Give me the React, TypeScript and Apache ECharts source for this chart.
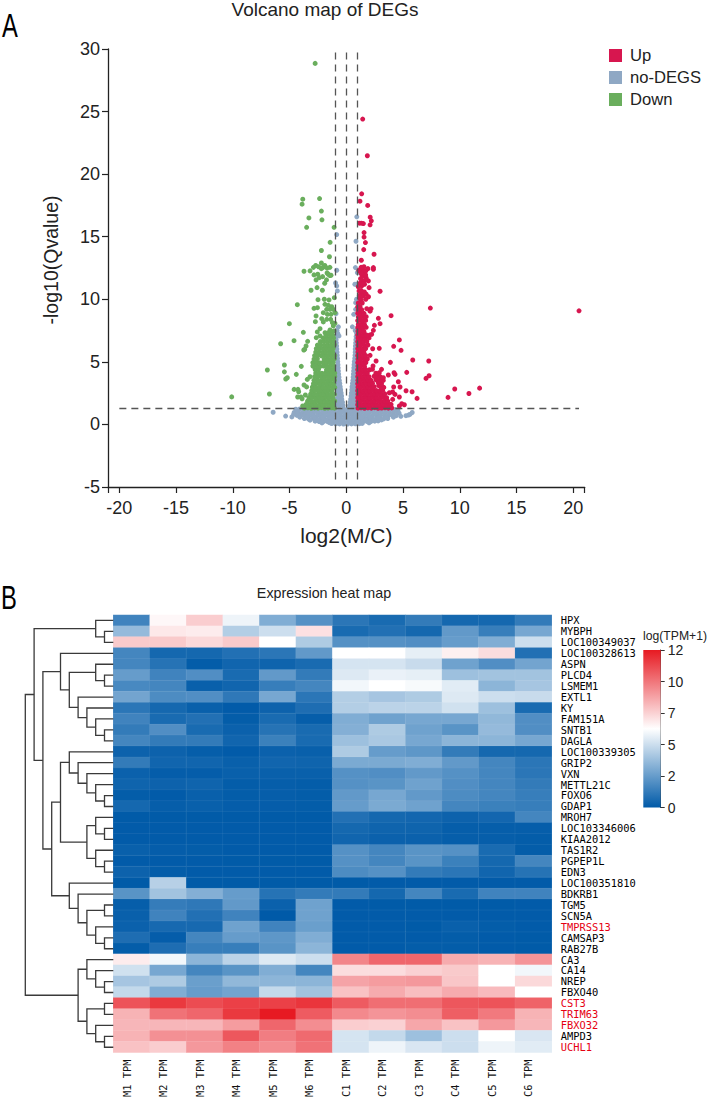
import React, { useEffect, useRef } from "react";
import * as echarts from "echarts";

const xTickValues = [-21, -20, -15, -10, -5, 0, 5, 10, 15, 20, 21];
const xLabelValues = [-20, -15, -10, -5, 0, 5, 10, 15, 20];

const downSparse = [[-2.75,28.85],[-3.84,18],[-3.9,17.6],[-2.36,18.05],[-2.2,17.05],[-3.3,16.5],[-2.15,16.35],[-3.5,15.75],[-1.08,15.75],[-1.43,14.55],[-2.2,13.9],[-1.49,13.4],[-2.7,12.7],[-2.2,12.9],[-1.9,12.7],[-2.05,12.55],[-1.7,12.1],[-1.45,11.9],[-2.2,12.45],[-3.73,12.24],[-3.2,12.27],[-2.52,12],[-1.59,12],[-1.35,11.92],[-2.09,11.81],[-2.38,11.73],[-2.67,11.55],[-1.91,11.28],[-3.11,10.72],[-2.58,10.93],[-2.11,10.72],[-4.32,9.57],[-2.5,9.97],[-1.94,10],[-1.53,9.95],[-1.06,10.13],[-2.85,9.28],[-2.55,9.33],[-1.88,9.6],[-1.59,9.52],[-1.29,9.41],[-1.73,9.2],[-1.44,9.2],[-1.15,9.2],[-2.67,8.67],[-2.03,8.93],[-1.67,8.8],[-1.35,8.8],[-1,8.93],[-2.73,8.21],[-2.17,8.45],[-2.03,8.19],[-1.38,8.4],[-1.73,8.4],[-1.23,8.13],[-5.02,8.05],[-2.32,7.65],[-3.79,7.36],[-2.56,7.39],[-1.44,7.55],[-1.29,7.28],[-5.79,6.45],[-4.61,6.69],[-3.41,6.64],[-2.65,6.93],[-2.32,7.07],[-1.88,7.33],[-1.59,7.33],[-1.15,7.87],[-1.0,8.08],[-3.55,6.27],[-3.67,6],[-3.75,5.95],[-6.96,4.35],[-5.46,4.75],[-5.46,4.2],[-3.97,4.64],[-2.95,4.67],[-4.41,4],[-5.2,3.73],[-5.34,3.63],[-3.2,3.81],[-3.44,3.6],[-3.73,3.15],[-3.5,3],[-4.6,2.8],[-4.26,2.8],[-4.2,2.61],[-3.61,2.35],[-4.29,2.19],[-4,2.19],[-3.9,2.05],[-6.78,2.43],[-10.1,2.2],[-3.55,1.6],[-3.85,1.47],[-2.9,12.55],[-2.45,12.6],[-1.7,12.5],[-2.85,11.95],[-1.75,11.55],[-1.45,12.55]];
const downDense = [[-3.7,1.3],[-3.4,1.33],[-3.1,1.29],[-2.8,1.32],[-2.5,1.3],[-2.2,1.34],[-1.9,1.29],[-1.6,1.31],[-1.3,1.33],[-1.04,1.3],[-3.3,1.58],[-3.02,1.6],[-2.68,1.56],[-2.35,1.6],[-2.05,1.57],[-1.75,1.61],[-1.45,1.58],[-1.15,1.56],[-3.42,1.86],[-3.12,1.88],[-2.82,1.84],[-2.52,1.87],[-2.22,1.85],[-1.92,1.89],[-1.62,1.86],[-1.32,1.84],[-1.03,1.88],[-3.3,2.14],[-3,2.16],[-2.7,2.12],[-2.4,2.15],[-2.1,2.13],[-1.8,2.17],[-1.5,2.14],[-1.2,2.12],[-3.15,2.42],[-2.85,2.44],[-2.55,2.4],[-2.25,2.43],[-1.95,2.41],[-1.65,2.45],[-1.35,2.42],[-1.05,2.4],[-3.05,2.7],[-2.75,2.72],[-2.45,2.68],[-2.15,2.71],[-1.85,2.69],[-1.55,2.73],[-1.25,2.7],[-3,2.98],[-2.7,3],[-2.4,2.96],[-2.1,2.99],[-1.8,2.97],[-1.5,3.01],[-1.2,2.98],[-1.02,2.96],[-2.9,3.26],[-2.6,3.28],[-2.3,3.24],[-2,3.27],[-1.7,3.25],[-1.4,3.29],[-1.1,3.26],[-2.85,3.54],[-2.55,3.56],[-2.25,3.52],[-1.95,3.55],[-1.65,3.53],[-1.35,3.57],[-1.05,3.54],[-2.8,3.82],[-2.5,3.84],[-2.2,3.8],[-1.9,3.83],[-1.6,3.81],[-1.3,3.85],[-1.02,3.82],[-2.7,4.1],[-2.42,4.12],[-2.15,4.08],[-1.85,4.11],[-1.55,4.09],[-1.25,4.13],[-1.02,4.1],[-2.75,4.38],[-2.45,4.4],[-1.75,4.36],[-1.45,4.39],[-1.15,4.37],[-2.9,4.66],[-2.6,4.68],[-2.3,4.64],[-2,4.67],[-1.7,4.65],[-1.4,4.69],[-1.1,4.66],[-2.95,4.94],[-2.65,4.96],[-2.35,4.92],[-2.05,4.95],[-1.75,4.93],[-1.45,4.97],[-1.15,4.94],[-2.85,5.22],[-2.55,5.24],[-1.95,5.2],[-1.65,5.23],[-1.35,5.21],[-1.05,5.25],[-2.8,5.5],[-2.5,5.52],[-2.2,5.48],[-1.9,5.51],[-1.6,5.49],[-1.3,5.53],[-1.02,5.5],[-2.7,5.78],[-2.4,5.8],[-2.1,5.76],[-1.8,5.79],[-1.5,5.77],[-1.2,5.81],[-2.65,6.06],[-2.35,6.08],[-2.05,6.04],[-1.75,6.07],[-1.45,6.05],[-1.15,6.09],[-2.55,6.34],[-2.25,6.36],[-1.95,6.32],[-1.65,6.35],[-1.35,6.33],[-1.05,6.37],[-2.3,6.62],[-2,6.64],[-1.7,6.6],[-1.4,6.63],[-1.1,6.61],[-2.05,6.9],[-1.75,6.92],[-1.45,6.88],[-1.12,6.91],[-1.8,7.15],[-1.5,7.17],[-1.2,7.13],[-1.35,7.45],[-1.08,7.47]];

const upSparse = [[20.5,9.08],[1.44,24.4],[1.85,21.47],[1.35,18.43],[1.2,17.84],[1.88,17.5],[2.1,16.56],[2.2,16.27],[2.09,15.95],[1.15,16.08],[1.5,16.05],[1.32,16.08],[1.56,15.33],[1.56,14.97],[1.68,14.53],[1.53,13.97],[2.44,13.6],[1.32,13.12],[2.38,12.53],[1.37,12.27],[1.62,12.27],[1.35,12],[1.6,12],[1.45,11.85],[2.38,12.4],[1.5,12.27],[1.3,12.08],[1.71,12.27],[1.35,11.47],[1.65,11.52],[1.94,11.47],[2,10.93],[1.35,11.07],[1.21,11.28],[1.12,10.67],[1.35,10.48],[1.5,10.27],[1.21,10.05],[1.71,10],[1.3,9.95],[1.59,10.59],[1.3,10.7],[1.8,9.25],[2.17,9.25],[2.09,9.05],[2.97,10.64],[7.4,9.3],[3.94,8.69],[2.82,8.48],[2.97,8.05],[2.47,7.92],[2.38,7.52],[2.23,7.2],[4.67,6.75],[4.17,6.24],[4.82,5.92],[2.32,6.05],[2.9,6.08],[2.09,5.52],[5.85,5.15],[2.62,5.07],[3.88,4.96],[7.26,5.07],[5.32,4.16],[4.2,4.13],[4.29,4],[7.29,3.89],[7.02,3.68],[9.55,2.83],[8.96,2.16],[11.74,2.9],[10.8,2.47],[4.58,3.41],[4.17,2.99],[4.73,2.99],[5.26,2.69],[5.79,2.61],[6.23,2.08],[4.08,2.59],[3.79,2.53],[4.67,2.19],[4.08,2],[4.29,2.4],[5.11,1.57],[4.88,1.65],[4.67,1.47],[3.94,1.6],[3.7,3.95],[3.26,3.73],[2.82,3.33],[3.1,4.4],[1.05,9.7],[1.4,9.7],[1.15,10.3],[1.75,10.4],[1.95,10.2],[1.05,11],[1.6,11.2],[1.25,11.65],[1.75,11.7],[1.1,12.3],[1.9,12.45],[1.55,12.6],[1.3,12.55],[1.7,11.95],[1.45,11.2]];
const upDense = [[1.02,1.3],[1.3,1.33],[1.6,1.29],[1.9,1.32],[2.2,1.3],[2.5,1.34],[2.8,1.29],[3.1,1.31],[3.4,1.33],[3.7,1.3],[4,1.32],[1,1.58],[1.15,1.6],[1.45,1.56],[1.75,1.59],[2.05,1.57],[2.35,1.61],[2.65,1.58],[2.95,1.56],[3.25,1.6],[3.55,1.57],[3.85,1.59],[1.02,1.86],[1.3,1.88],[1.6,1.84],[1.9,1.87],[2.2,1.85],[2.5,1.89],[2.8,1.86],[3.1,1.84],[3.4,1.88],[3.65,1.85],[1,2.14],[1.15,2.16],[1.45,2.12],[1.75,2.15],[2.05,2.13],[2.35,2.17],[2.65,2.14],[2.95,2.12],[3.25,2.16],[3.55,2.13],[1.02,2.42],[1.3,2.44],[1.6,2.4],[1.9,2.43],[2.2,2.41],[2.5,2.45],[2.8,2.42],[3.1,2.4],[3.4,2.44],[1,2.7],[1.15,2.72],[1.45,2.68],[1.75,2.71],[2.05,2.69],[2.35,2.73],[2.65,2.7],[2.95,2.68],[3.2,2.72],[1.02,2.98],[1.3,3],[1.6,2.96],[1.9,2.99],[2.2,2.97],[2.45,3.01],[3.05,2.98],[3.3,2.96],[1,3.26],[1.15,3.28],[1.45,3.24],[1.75,3.27],[2.05,3.25],[2.3,3.29],[2.85,3.1],[3.1,3.26],[1.02,3.54],[1.3,3.56],[1.6,3.52],[1.9,3.55],[2.15,3.53],[2.6,3.57],[2.95,3.54],[3.25,3.52],[1,3.82],[1.15,3.84],[1.45,3.8],[1.75,3.83],[2,3.81],[2.45,3.85],[2.75,3.82],[3,3.8],[1.02,4.1],[1.3,4.12],[1.6,4.08],[1.85,4.11],[2.6,4.09],[2.9,4.13],[1,4.38],[1.15,4.4],[1.45,4.36],[1.7,4.39],[2.05,4.37],[2.3,4.41],[1.02,4.66],[1.3,4.68],[1.6,4.64],[2.35,4.67],[1,4.94],[1.15,4.96],[1.45,4.92],[1.72,4.95],[1.02,5.22],[1.3,5.24],[1.6,5.2],[1.85,5.23],[1,5.5],[1.15,5.52],[1.45,5.48],[1.7,5.51],[1.02,5.78],[1.3,5.8],[1.55,5.76],[1,6.06],[1.15,6.08],[1.45,6.04],[1.7,6.07],[1.02,6.34],[1.3,6.36],[1.6,6.32],[1.9,6.35],[1,6.62],[1.2,6.64],[1.5,6.6],[1.8,6.63],[1.02,6.9],[1.35,6.92],[1.65,6.88],[2,6.91],[1,7.15],[1.2,7.17],[1.5,7.13],[1.75,7.16],[2.05,7.14],[1.02,7.45],[1.3,7.47],[1.55,7.43],[1,7.75],[1.2,7.77],[1.5,7.73],[1.75,7.76],[1.05,8],[1.35,8.02],[1.6,7.98],[1,8.3],[1.2,8.32],[1.45,8.28],[1.7,8.31],[1.05,8.6],[1.35,8.62],[1.6,8.58],[1.75,8.61],[1,8.9],[1.25,8.92],[1.55,8.88],[1.05,9.15],[1.35,9.17],[1,9.4],[1.2,9.42]];

const noDegsSparse = [[0.92,16.59],[-0.85,15.17],[0.85,14.64],[0.8,12.53],[0.97,12.13],[-0.85,12.32],[-0.85,11.07],[-0.95,11.3],[-0.79,10.67],[-0.91,8.85],[-0.7,7.8],[-0.65,7.07],[0.9,11.2],[0.75,11.2],[0.9,10],[0.82,9.73],[0.82,9.2],[0.65,8.8],[0.53,7.8],[-6.45,0.97],[-5.35,0.67],[-4.8,0.6],[-4.65,0.8],[5.8,0.95],[5.6,0.8],[5.47,0.75],[5.25,0.7],[4.8,0.65]];
const noDegsBase = [[-4.45,1.22],[-4.1,1.24],[-3.75,1.2],[-3.4,1.23],[-3.05,1.21],[-2.7,1.25],[-2.35,1.22],[-2,1.2],[-1.65,1.24],[-1.3,1.21],[-0.95,1.23],[-0.6,1.2],[-0.25,1.24],[0.1,1.22],[0.45,1.2],[0.8,1.24],[1.15,1.21],[1.5,1.23],[1.85,1.2],[2.2,1.24],[2.55,1.22],[2.9,1.2],[3.25,1.24],[3.6,1.21],[3.95,1.23],[4.3,1.2],[4.55,1.18],[-4.6,0.95],[-4.25,0.97],[-3.9,0.93],[-3.55,0.96],[-3.2,0.94],[-2.85,0.98],[-2.5,0.95],[-2.15,0.93],[-1.8,0.97],[-1.45,0.94],[-1.1,0.96],[-0.75,0.93],[-0.4,0.97],[-0.05,0.95],[0.3,0.93],[0.65,0.97],[1,0.94],[1.35,0.96],[1.7,0.93],[2.05,0.97],[2.4,0.95],[2.75,0.93],[3.1,0.97],[3.45,0.94],[3.8,0.96],[4.15,0.93],[4.5,0.97],[4.65,0.9],[-4.35,0.72],[-4,0.7],[-3.65,0.74],[-3.3,0.71],[-2.95,0.73],[-2.6,0.69],[-2.25,0.72],[-1.9,0.7],[-1.55,0.74],[-1.2,0.71],[-0.85,0.73],[-0.5,0.69],[-0.15,0.72],[0.2,0.7],[0.55,0.74],[0.9,0.71],[1.25,0.73],[1.6,0.69],[1.95,0.72],[2.3,0.7],[2.65,0.74],[3,0.71],[3.35,0.73],[3.7,0.69],[4.05,0.72],[4.4,0.7],[-3.7,0.47],[-3.35,0.45],[-3,0.49],[-2.65,0.46],[-2.3,0.44],[-1.95,0.48],[-1.6,0.45],[-1.25,0.47],[-0.9,0.44],[-0.55,0.48],[-0.2,0.46],[0.15,0.44],[0.5,0.48],[0.85,0.45],[1.2,0.47],[1.55,0.44],[1.9,0.48],[2.25,0.46],[2.6,0.44],[2.95,0.48],[3.3,0.45],[3.65,0.47],[-2.75,0.26],[-2.4,0.23],[-2.05,0.21],[-1.7,0.24],[-1.35,0.22],[-1,0.2],[-0.65,0.23],[-0.3,0.21],[0.05,0.19],[0.4,0.22],[0.75,0.2],[1.1,0.23],[1.45,0.21],[1.8,0.24],[2.15,0.22],[2.5,0.26],[2.8,0.28],[-1.3,0.07],[-0.95,0.05],[-0.6,0.04],[-0.25,0.03],[0.1,0.03],[0.45,0.04],[0.8,0.05],[1.15,0.06],[1.4,0.08],[-4.1,0.58],[-3.45,0.6],[-2.8,0.57],[-2.1,0.59],[-1.4,0.57],[-0.7,0.6],[0,0.58],[0.7,0.57],[1.4,0.6],[2.1,0.58],[2.8,0.57],[3.5,0.6],[4.15,0.58],[-3.2,0.34],[-2.5,0.36],[-1.8,0.33],[-1.1,0.35],[-0.4,0.32],[0.3,0.34],[1,0.33],[1.7,0.36],[2.4,0.34],[3.1,0.36],[-2.15,0.12],[-1.5,0.14],[-0.8,0.12],[-0.1,0.1],[0.6,0.12],[1.3,0.13],[2,0.13]];
const noDegsRising = [[0.28,1.52],[0.6,1.48],[0.9,1.51],[0.38,2.02],[0.65,1.98],[0.92,2.01],[0.45,2.52],[0.72,2.48],[0.94,2.51],[0.5,3.02],[0.75,2.98],[0.95,3.01],[0.58,3.52],[0.82,3.48],[0.62,4.02],[0.86,3.98],[0.66,4.52],[0.9,4.48],[0.7,5.02],[0.92,4.98],[0.76,5.52],[0.78,6.02],[0.82,6.52],[0.86,7.02],[-0.3,1.52],[-0.62,1.48],[-0.92,1.51],[-0.4,2.02],[-0.68,1.98],[-0.92,2.01],[-0.46,2.52],[-0.74,2.48],[-0.54,3.02],[-0.8,2.98],[-0.62,3.52],[-0.85,3.48],[-0.68,4.02],[-0.9,3.98],[-0.72,4.52],[-0.76,5.02],[-0.8,5.52],[-0.84,6.02],[-0.88,6.52],[-0.9,7.02],[0.33,1.77],[0.62,1.73],[0.9,1.76],[0.42,2.27],[0.7,2.23],[0.93,2.26],[0.48,2.77],[0.74,2.73],[0.95,2.76],[0.54,3.27],[0.78,3.23],[0.6,3.77],[0.84,3.73],[0.64,4.27],[0.88,4.23],[0.68,4.77],[0.9,4.73],[0.74,5.27],[0.78,5.77],[0.8,6.27],[0.84,6.77],[0.9,7.27],[0.78,7.5],[-0.34,1.77],[-0.64,1.73],[-0.92,1.76],[-0.42,2.27],[-0.7,2.23],[-0.5,2.77],[-0.77,2.73],[-0.58,3.27],[-0.82,3.23],[-0.65,3.77],[-0.87,3.73],[-0.7,4.27],[-0.9,4.23],[-0.74,4.77],[-0.78,5.27],[-0.82,5.77],[-0.86,6.27],[-0.9,6.77],[-0.75,7.25],[-0.82,7.5]];

const genes = ["HPX","MYBPH","LOC100349037","LOC100328613","ASPN","PLCD4","LSMEM1","EXTL1","KY","FAM151A","SNTB1","DAGLA","LOC100339305","GRIP2","VXN","METTL21C","FOXO6","GDAP1","MROH7","LOC103346006","KIAA2012","TAS1R2","PGPEP1L","EDN3","LOC100351810","BDKRB1","TGM5","SCN5A","TMPRSS13","CAMSAP3","RAB27B","CA3","CA14","NREP","FBXO40","CST3","TRIM63","FBXO32","AMPD3","UCHL1"];
const redGenes = ["TMPRSS13","CST3","TRIM63","FBXO32","UCHL1"];
const samples = ["M1 TPM","M2 TPM","M3 TPM","M4 TPM","M5 TPM","M6 TPM","C1 TPM","C2 TPM","C3 TPM","C4 TPM","C5 TPM","C6 TPM"];
const heatRows = [
[1.5,6.2,7.3,5.6,3,2,1,0.6,1.2,0.5,0.5,1.2],
[3.5,6.6,6.5,4.2,4.8,6.8,0.6,0.8,0.5,2.3,1.3,2.8],
[7.4,7.4,7,7.4,6,4.1,2,2,1.9,2.4,3,4.8],
[1.6,0.5,0.5,0.8,1,2.3,6,6,5.4,6.4,6.9,0.8],
[1.6,0.9,0.1,0.4,0.35,0.6,5,5,4.7,2.6,1.9,2.7],
[2.4,1.5,1.9,0.6,2.3,1.2,5.2,5.5,5.4,3.7,3.8,3.8],
[1.7,1.6,0.2,0.4,1.3,1.6,5.7,6,5.8,5.3,3.3,3.9],
[2.7,1.8,1.9,1.1,2.8,1,4.2,3.9,4.1,5.2,4.8,4.7],
[1,0.5,0.2,0.05,0.3,0.7,4.2,4.4,4.4,4.9,3.7,0.6],
[1.5,0.6,0.8,0.1,0.6,0.15,3,2.6,2.8,2.8,3.4,1.9],
[1.2,1.9,0.6,0.25,0.9,0.6,3.1,4.1,2.6,2.1,3.5,1.9],
[1.6,1.2,1.2,0.4,1.4,0.6,3.7,4,2.8,3.3,3.3,2.8],
[0.3,0.3,0.15,0.05,0.25,0.2,4.1,2.4,2.2,1.2,0.5,0.5],
[1.2,0.4,0.4,0.2,0.4,0.35,2.9,2.9,3,2.3,1.6,1],
[0.25,0.12,0.12,0.2,0.2,0.2,2,1.9,2.3,2,1.6,1],
[0.35,0.3,0.35,0.1,0.15,0.1,2,2.1,2.6,1.9,1.6,1.2],
[0.1,0.05,0.2,0.1,0.13,0.1,2.3,2.8,2.3,1.8,1.6,1.3],
[0.5,0.15,0.22,0.12,0.12,0.1,2.4,2.9,2.6,1.6,1.4,1.3],
[0.02,0.03,0.02,0.03,0.02,0.02,0.8,0.5,0.45,0.3,0.45,1.6],
[0.05,0.05,0.05,0.05,0.05,0.05,0.5,0.35,0.35,0.15,0.15,0.15],
[0.05,0.05,0.05,0.05,0.05,0.05,0.4,0.25,0.25,0.15,0.15,0.1],
[0.2,0.12,0.1,0.05,0.05,0.05,2,1.6,2.1,2,0.6,0.1],
[0.05,0.05,0.05,0.02,0.02,0.02,2,1.6,2.1,1.4,0.5,1.6],
[0.3,0.1,0.05,0.05,0.05,0.05,1.8,2,1.2,1,0.4,0.9],
[0.02,4.3,0.03,0.03,0.03,0.03,0.03,0.05,0.05,0.05,0.05,0.05],
[2.1,3.8,3.1,2.4,0.9,1.2,1.2,0.5,1.6,0.6,1.5,1.5],
[0.15,1.25,1.1,2.3,0.25,2.6,0.05,0.02,0.02,0.02,0.02,0.05],
[0.2,1.5,0.8,1.5,0,2.6,0.05,0.05,0.05,0.05,0.05,0.05],
[0.25,0.55,0.55,2.6,1.5,2.5,0.05,0.05,0.02,0.2,0.1,0.05],
[0.7,0.12,1.6,2.4,2.2,3,0.05,0.05,0.05,0.1,0.05,0.03],
[0.1,0.7,1.3,1.3,2.1,3.3,0.05,0.05,0.1,0.1,0.05,0.02],
[6.5,5.7,3.3,4.4,5.2,4.8,9.2,10,10,8.2,8,8.8],
[4.9,2.8,1.6,2.1,3,1.6,6.9,6.9,7.2,7.4,6,5.7],
[3.9,4.1,2.5,3.4,3.3,3.3,8.4,8.6,8.7,7.5,6,7],
[4.6,3,2.4,2.7,4.6,3.8,7.6,8.2,7.7,8.2,7.8,6],
[10.5,11.2,10.7,11,11,11.3,10.3,9.8,9.8,10.4,10.5,10.1],
[8,9.7,10,11.2,12,10.3,9.1,8.8,9,10.2,9.5,8],
[7.9,7.9,7.9,8.6,10,9,7.3,7.2,8.3,7.6,8.7,7.9],
[8,8.9,8.9,10.4,9.4,9.9,5,4.6,3.7,4.8,6,5.1],
[7.6,7.3,8.7,9.3,9,9.7,5,5.6,5.1,4.8,5.6,5.3],
];
const heatScale = ["#005aa8", "#ffffff", "#e71a22"];
const heatMax = 12;
const heatTickStep = 2.4;

// Clustering: leaves are row numbers.
const rowTree: any = [
  [[0,[1,2]],
   [[3,[[4,[5,6]],[7,[8,[9,[10,11]]]]]],
    [[[12,[13,[14,[15,[16,17]]]]],[[18,[19,20]],[21,[22,23]]]],
     [24,[25,[[26,27],[28,[29,30]]]]]]]],
  [[31,[32,[33,34]]],[[35,36],[37,[38,39]]]],
];

function buildLinks(tree: any) {
  const links: number[][] = [];
  const walk = (n: any): { h: number; y: number } => {
    if (typeof n === "number") return { h: 0, y: n + 0.5 };
    const a = walk(n[0]);
    const b = walk(n[1]);
    const h = 1 + Math.max(a.h, b.h);
    links.push([h, a.y, a.h, b.y, b.h]);
    return { h, y: (a.y + b.y) / 2 };
  };
  walk(tree);
  return links;
}

const sans = "'Liberation Sans', Arial, sans-serif";
const mono = "'DejaVu Sans Mono', monospace";

export default function App() {
  const ref = useRef<HTMLDivElement>(null);
  useEffect(() => {
    const chart = echarts.init(ref.current!, undefined, { renderer: "svg" });
    const heatData: number[][] = [];
    heatRows.forEach((row, r) => row.forEach((v, c) => heatData.push([c, genes[r], v])));
    const vLine = (x: number) => [
      { coord: [x, -4.4] },
      { coord: [x, 30] },
    ];
    chart.setOption({
      animation: false,
      backgroundColor: "#fff",
      title: [
        { text: "Volcano map of DEGs", left: 320, top: -5, textAlign: "center", textStyle: { fontFamily: sans, fontSize: 19, fontWeight: "normal", color: "#222" } },
        { text: "Expression heat map", left: 319, top: 581, textAlign: "center", textStyle: { fontFamily: sans, fontSize: 14.3, fontWeight: "normal", color: "#222" } },
        { text: "log(TPM+1)", left: 643, top: 630, padding: 0, textStyle: { fontFamily: sans, fontSize: 12.2, fontWeight: "normal", color: "#222" } },
      ],
      legend: {
        data: ["Up", "no-DEGS", "Down"],
        orient: "vertical",
        left: 604,
        top: 42,
        icon: "rect",
        itemWidth: 13,
        itemHeight: 13,
        itemGap: 5,
        textStyle: { fontFamily: sans, fontSize: 16.6, color: "#222", padding: [0, 0, 0, 3] },
      },
      grid: [
        { left: 108, top: 49, width: 476.7, height: 438 },
        { left: 113.3, top: 615, width: 438.4, height: 437.7 },
        { left: 25.3, top: 615, width: 88, height: 437.7 },
        { left: 643.3, top: 650, width: 17.4, height: 157.5 },
      ],
      xAxis: [
        {
          gridIndex: 0, type: "value", min: -21, max: 21,
          name: "log2(M/C)", nameLocation: "middle", nameGap: 38,
          nameTextStyle: { fontFamily: sans, fontSize: 21, color: "#222" },
          splitLine: { show: false },
          axisLine: { onZero: false, lineStyle: { color: "#222", width: 1.3 } },
          axisTick: { customValues: xTickValues, length: 6, lineStyle: { color: "#222", width: 1.2 } },
          axisLabel: { customValues: xLabelValues, fontFamily: sans, fontSize: 18, color: "#222", margin: 12, formatter: (v: number) => String(v) },
        },
        {
          gridIndex: 1, type: "category", data: samples, position: "bottom",
          axisLine: { show: false }, axisTick: { show: false }, splitLine: { show: false },
          axisLabel: { rotate: 90, interval: 0, margin: 7, fontFamily: mono, fontSize: 10.4, color: "#111", verticalAlign: "bottom" },
        },
        { gridIndex: 2, type: "value", min: 0, max: 10, inverse: true, show: false },
        { gridIndex: 3, type: "category", data: ["scale"], show: false },
      ],
      yAxis: [
        {
          gridIndex: 0, type: "value", min: -5, max: 30, interval: 5,
          name: "-log10(Qvalue)", nameLocation: "middle", nameGap: 47,
          nameTextStyle: { fontFamily: sans, fontSize: 19.5, color: "#222", padding: [0, 0, 0, 16] },
          splitLine: { show: false },
          axisLine: { show: true, onZero: false, lineStyle: { color: "#222", width: 1.3 } },
          axisTick: { show: true, length: 6, lineStyle: { color: "#222", width: 1.2 } },
          axisLabel: { fontFamily: sans, fontSize: 18, color: "#222", margin: 8 },
        },
        {
          gridIndex: 1, type: "category", data: genes, inverse: true, position: "right",
          axisLine: { show: false }, axisTick: { show: false }, splitLine: { show: false },
          axisLabel: {
            interval: 0, margin: 9, fontFamily: mono, fontSize: 10.4,
            color: (v: string) => (redGenes.includes(v) ? "#e60012" : "#000"),
          },
        },
        { gridIndex: 2, type: "value", min: 0, max: 40, inverse: true, show: false },
        {
          gridIndex: 3, type: "value", min: 0, max: heatMax, interval: heatTickStep, position: "right",
          splitLine: { show: false },
          axisLine: { show: true, lineStyle: { color: "#333", width: 1 } },
          axisTick: { show: true, length: 4, lineStyle: { color: "#333", width: 1 } },
          axisLabel: { fontFamily: sans, fontSize: 14, color: "#222", margin: 7, formatter: (v: number) => String(Math.round(v)) },
        },
      ],
      visualMap: {
        show: false, type: "continuous", seriesIndex: 3, dimension: 2,
        min: 0, max: heatMax, inRange: { color: heatScale },
      },
      series: [
        {
          name: "no-DEGS", type: "scatter", xAxisIndex: 0, yAxisIndex: 0,
          data: [...noDegsBase, ...noDegsRising, ...noDegsSparse],
          symbolSize: 5, itemStyle: { color: "#8fa8c4", opacity: 1 },
        },
        {
          name: "Down", type: "scatter", xAxisIndex: 0, yAxisIndex: 0,
          data: [...downDense, ...downSparse],
          symbolSize: 5, itemStyle: { color: "#6aae5d", opacity: 1 },
        },
        {
          name: "Up", type: "scatter", xAxisIndex: 0, yAxisIndex: 0,
          data: [...upDense, ...upSparse],
          symbolSize: 5, itemStyle: { color: "#d7164f", opacity: 1 },
          markLine: {
            silent: true, symbol: "none", label: { show: false },
            lineStyle: { color: "#555", type: [7, 5], width: 1.3 },
            data: [vLine(-1), vLine(0), vLine(1), [{ coord: [-20, 1.3] }, { coord: [20.5, 1.3] }]],
          },
        },
        {
          name: "heat", type: "heatmap", xAxisIndex: 1, yAxisIndex: 1, data: heatData,
          itemStyle: { borderColor: "rgba(255,255,255,0.12)", borderWidth: 0.5 },
        },
        {
          name: "tree", type: "custom", xAxisIndex: 2, yAxisIndex: 2, data: buildLinks(rowTree),
          encode: { x: 0, y: 1 }, clip: false,
          renderItem: (_p: any, api: any) => {
            const v = (i: number) => api.value(i);
            return {
              type: "polyline",
              shape: { points: [api.coord([v(2), v(1)]), api.coord([v(0), v(1)]), api.coord([v(0), v(3)]), api.coord([v(4), v(3)])] },
              style: { stroke: "#3a3a3a", lineWidth: 1.3, fill: "none" },
            };
          },
        },
        {
          name: "scale", type: "bar", xAxisIndex: 3, yAxisIndex: 3, data: [heatMax], barWidth: "100%",
          itemStyle: {
            color: new echarts.graphic.LinearGradient(0, 0, 0, 1, [
              { offset: 0, color: heatScale[2] },
              { offset: 0.5, color: heatScale[1] },
              { offset: 1, color: heatScale[0] },
            ]),
          },
        },
      ],
      graphic: [
        { type: "text", x: 2, y: 9, scaleX: 0.72, style: { text: "A", fontFamily: sans, fontSize: 33, fill: "#000" } },
        { type: "text", x: 1, y: 581, scaleX: 0.72, style: { text: "B", fontFamily: sans, fontSize: 33, fill: "#000" } },
      ],
    });
    return () => chart.dispose();
  }, []);
  return <div ref={ref} style={{ position: "absolute", left: 0, top: 0, width: 708, height: 1100 }} />;
}
